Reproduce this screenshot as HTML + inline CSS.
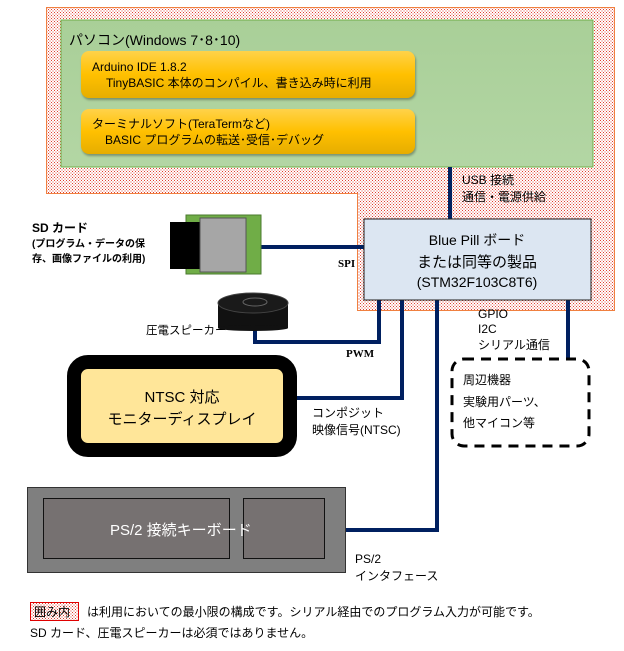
<!DOCTYPE html>
<html><head><meta charset="utf-8"><style>
body{margin:0;width:624px;height:651px;background:#fff;overflow:hidden;font-family:"Liberation Sans","Noto Sans CJK JP",sans-serif;}
</style></head><body>
<svg width="624" height="651" xmlns="http://www.w3.org/2000/svg" style="position:absolute;left:0;top:0">
<defs>
<pattern id="dots" width="3" height="3" patternUnits="userSpaceOnUse"><rect width="3" height="3" fill="#fff"/><rect width="1" height="1" fill="#e04030"/><rect x="1.5" y="1.5" width="1" height="1" fill="#e04030"/></pattern>
<linearGradient id="og" x1="0" y1="0" x2="0" y2="1"><stop offset="0" stop-color="#ffd24a"/><stop offset="0.5" stop-color="#ffc000"/><stop offset="1" stop-color="#e6ad00"/></linearGradient>
<linearGradient id="gg" x1="0" y1="0" x2="0" y2="1"><stop offset="0" stop-color="#a9cf98"/><stop offset="1" stop-color="#b3d6a4"/></linearGradient>
</defs>
<path d="M46.5 7.5H614.5V310.5H357.5V193.5H46.5Z" fill="url(#dots)" stroke="#f08040" stroke-width="1"/>
<rect x="61" y="20" width="532" height="147" fill="url(#gg)" stroke="#70ad47"/>
<rect x="81" y="51" width="334" height="47" rx="8" fill="url(#og)" filter="drop-shadow(1px 2px 1px rgba(0,0,0,0.3))"/>
<rect x="81" y="109" width="334" height="45" rx="8" fill="url(#og)" filter="drop-shadow(1px 2px 1px rgba(0,0,0,0.3))"/>
<g stroke="#002060" stroke-width="4" fill="none">
<line x1="450" y1="167" x2="450" y2="219"/>
<line x1="261" y1="247" x2="364" y2="247"/>
<polyline points="379,300 379,342 255,342 255,326"/>
<polyline points="402,300 402,398 297,398"/>
<polyline points="437,300 437,530 345,530"/>
<line x1="568" y1="300" x2="568" y2="360"/>
</g>
<rect x="364" y="219" width="227" height="81" fill="#dce6f2" stroke="#1f1f1f"/>
<rect x="186" y="215" width="75" height="59" fill="#70ad47" stroke="#4a7a2e"/>
<rect x="170" y="222" width="30" height="47" fill="#000"/>
<rect x="200" y="218" width="46" height="54" fill="#a6a6a6" stroke="#555"/>
<text x="146" y="334" font-size="11.5" fill="#000">圧電スピーカー</text>
<rect x="218" y="303" width="70" height="25" fill="#111"/>
<ellipse cx="253" cy="328" rx="35" ry="3" fill="#111"/>
<ellipse cx="253" cy="303" rx="35" ry="10" fill="#1a1a1a" stroke="#444"/>
<ellipse cx="255" cy="302" rx="12" ry="4" fill="none" stroke="#666"/>
<rect x="74" y="362" width="216" height="88" rx="14" fill="#ffe699" stroke="#000" stroke-width="14"/>
<rect x="452" y="359" width="137" height="87" rx="12" fill="#fff" stroke="#000" stroke-width="3" stroke-dasharray="10,7"/>
<rect x="27.5" y="487.5" width="318" height="85" fill="#7f7f7f" stroke="#333"/>
<rect x="43.5" y="498.5" width="186" height="60" fill="#767171" stroke="#111"/>
<rect x="243.5" y="498.5" width="81" height="60" fill="#767171" stroke="#111"/>
<rect x="30.5" y="602.5" width="48" height="18" fill="url(#dots)" stroke="#e00000"/>
<g font-size="13" fill="#000">
<text x="69" y="45" font-size="14">パソコン(Windows 7･8･10)</text>
<text x="92" y="71" font-size="12">Arduino IDE 1.8.2</text>
<text x="106" y="87" font-size="12">TinyBASIC 本体のコンパイル、書き込み時に利用</text>
<text x="92" y="128" font-size="12">ターミナルソフト(TeraTermなど)</text>
<text x="105" y="144" font-size="12">BASIC プログラムの転送･受信･デバッグ</text>
<text x="462" y="184" font-size="12">USB 接続</text>
<text x="462" y="201" font-size="12">通信・電源供給</text>
<text x="477" y="245" text-anchor="middle" font-size="14">Blue Pill ボード</text>
<text x="477" y="267" text-anchor="middle" font-size="15">または同等の製品</text>
<text x="477" y="287" text-anchor="middle" font-size="14">(STM32F103C8T6)</text>
<text x="32" y="232" font-size="12" font-weight="bold">SD カード</text>
<text x="32" y="247" font-size="10" font-weight="bold">(プログラム・データの保</text>
<text x="32" y="262" font-size="10" font-weight="bold">存、画像ファイルの利用)</text>
<text x="338" y="267" font-size="11" font-weight="bold" font-family="Liberation Serif,serif">SPI</text>
<text x="346" y="357" font-size="11" font-weight="bold" font-family="Liberation Serif,serif">PWM</text>
<text x="478" y="318" font-size="12">GPIO</text>
<text x="478" y="333" font-size="12">I2C</text>
<text x="478" y="349" font-size="12">シリアル通信</text>
<text x="182" y="402" text-anchor="middle" font-size="15">NTSC 対応</text>
<text x="182" y="424" text-anchor="middle" font-size="15">モニターディスプレイ</text>
<text x="312" y="417" font-size="12">コンポジット</text>
<text x="312" y="434" font-size="12">映像信号(NTSC)</text>
<text x="463" y="384" font-size="12">周辺機器</text>
<text x="463" y="406" font-size="12">実験用パーツ、</text>
<text x="463" y="427" font-size="12">他マイコン等</text>
<text x="110" y="535" fill="#fff" font-size="15">PS/2 接続キーボード</text>
<text x="355" y="563" font-size="12">PS/2</text>
<text x="355" y="580" font-size="12">インタフェース</text>
<text x="34" y="616" font-size="12">囲み内</text>
<text x="87" y="616" font-size="12">は利用においての最小限の構成です。シリアル経由でのプログラム入力が可能です。</text>
<text x="30" y="637" font-size="12">SD カード、圧電スピーカーは必須ではありません。</text>
</g>
</svg>
</body></html>
